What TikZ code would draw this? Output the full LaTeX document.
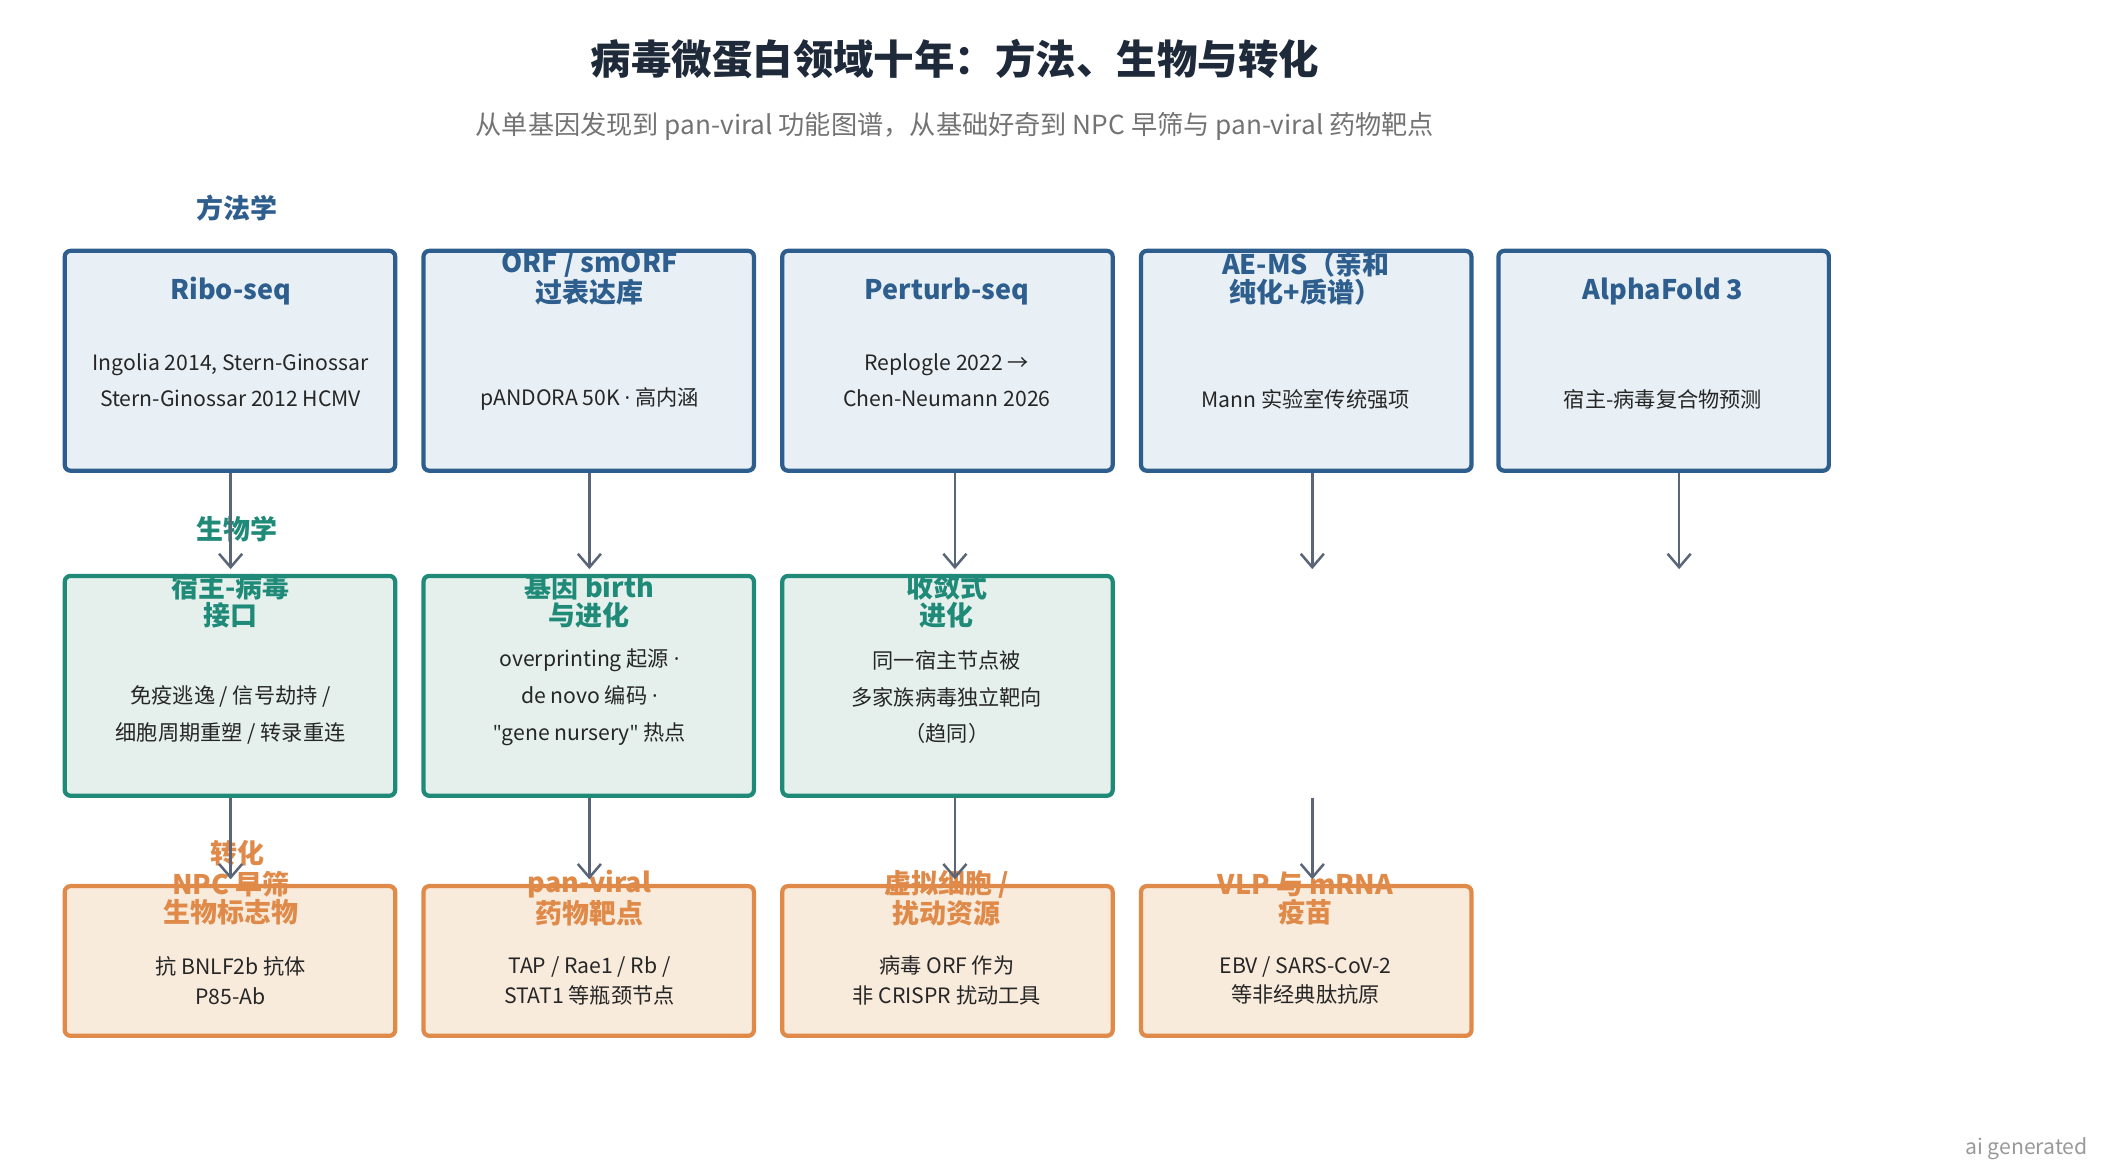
\documentclass[tikz,border=0pt]{standalone}
\usepackage{fontspec}
\setmainfont{Noto Sans CJK SC}
\newfontfamily\lat{Open Sans}
\newcommand{\md}{{\lat ·}}
\newcommand{\qt}{{\lat "}}
\usetikzlibrary{arrows.meta}
\definecolor{bB}{HTML}{2E5E8E}\definecolor{bF}{HTML}{E8F0F5}
\definecolor{gB}{HTML}{1F8A78}\definecolor{gF}{HTML}{E5F0EC}
\definecolor{oB}{HTML}{E08A4A}\definecolor{oF}{HTML}{F8EBDC}
\definecolor{ar}{HTML}{5A6678}\definecolor{tt}{HTML}{1E2A3A}
\begin{document}
\begin{tikzpicture}[x=0.7pt,y=-0.7pt,
 box/.style={draw,line width=2.2pt,rounded corners=3pt,minimum width=245*0.7pt,anchor=north west,inner sep=0,outer sep=0},
 B/.style={box,draw=bB,fill=bF,minimum height=163*0.7pt},
 G/.style={box,draw=gB,fill=gF,minimum height=163*0.7pt},
 O/.style={box,draw=oB,fill=oF,minimum height=111*0.7pt},
 ttl/.style={font=\bfseries\fontsize{14}{14.5}\selectfont,align=center,inner sep=0},
 body/.style={font=\fontsize{11}{19}\selectfont,align=center,text=black!85,inner sep=0},
 bodys/.style={font=\fontsize{11}{15.5}\selectfont,align=center,text=black!85,inner sep=0},
 sec/.style={font=\bfseries\fontsize{14}{14}\selectfont,inner sep=0},
 arr/.style={draw=ar,line width=1.3pt,-{Straight Barb[length=7pt,width=12pt]}}]
\useasboundingbox (0,0) rectangle (1560,871);
\node[font=\bfseries\fontsize{21}{21}\selectfont,text=tt] (title) at (708,44) {病毒微蛋白领域十年：方法、生物与转化};
\node[font=\fontsize{13.6}{14}\selectfont,text=black!55] (sub) at (708,94) {从单基因发现到 pan-viral 功能图谱，从基础好奇到 NPC 早筛与 pan-viral 药物靶点};
\node[sec,text=bB] (s1) at (176,154) {方法学};
\node[sec,text=gB] (s2) at (176,392) {生物学};
\node[sec,text=oB] (s3) at (176,633) {转化};
% row1
\node[B] (a1) at (48,186) {}; \node[B] (a2) at (314,186) {}; \node[B] (a3) at (580,186) {};
\node[B] (a4) at (846,186) {}; \node[B] (a5) at (1111,186) {};
\node[ttl,text=bB] at (171,216) {Ribo-seq};
\node[body] at (171,282) {Ingolia 2014, Stern-Ginossar\\Stern-Ginossar 2012 HCMV};
\node[ttl,text=bB] at (437,206) {ORF / smORF\\过表达库};
\node[body] at (437,296) {pANDORA 50K \md{} 高内涵};
\node[ttl,text=bB] at (702,216) {Perturb-seq};
\node[body] at (702,282) {Replogle 2022 →\\Chen-Neumann 2026};
\node[ttl,text=bB] at (968,206) {AE-MS（亲和\\纯化+质谱）};
\node[body] at (968,296) {Mann 实验室传统强项};
\node[ttl,text=bB] at (1233,216) {AlphaFold 3};
\node[body] at (1233,296) {宿主-病毒复合物预测};
% row2
\node[G] (b1) at (48,427) {}; \node[G] (b2) at (314,427) {}; \node[G] (b3) at (580,427) {};
\node[ttl,text=gB] at (171,446) {宿主-病毒\\接口};
\node[body] at (171,530) {免疫逃逸 / 信号劫持 /\\细胞周期重塑 / 转录重连};
\node[ttl,text=gB] at (437,446) {基因 birth\\与进化};
\node[body] at (437,517) {overprinting 起源 \md\\de novo 编码 \md\\\qt gene nursery\qt{} 热点};
\node[ttl,text=gB] at (702,446) {收敛式\\进化};
\node[body] at (702,517) {同一宿主节点被\\多家族病毒独立靶向\\（趋同）};
% row3
\node[O] (c1) at (48,657) {}; \node[O] (c2) at (314,657) {}; \node[O] (c3) at (580,657) {}; \node[O] (c4) at (846,657) {};
\node[ttl,text=oB] at (171,666) {NPC 早筛\\生物标志物};
\node[bodys] at (171,727) {抗 BNLF2b 抗体\\P85-Ab};
\node[ttl,text=oB] at (437,666) {pan-viral\\药物靶点};
\node[bodys] at (437,727) {TAP / Rae1 / Rb /\\STAT1 等瓶颈节点};
\node[ttl,text=oB] at (702,666) {虚拟细胞 /\\扰动资源};
\node[bodys] at (702,727) {病毒 ORF 作为\\非 CRISPR 扰动工具};
\node[ttl,text=oB] at (968,666) {VLP 与 mRNA\\疫苗};
\node[bodys] at (968,727) {EBV / SARS-CoV-2\\等非经典肽抗原};
% arrows
\foreach \x/\n in {171/1,437/2,708/3,973/4,1245/5}{
 \coordinate (p\n) at (\x,351); \coordinate (q\n) at (\x,422);
 \draw[arr] (p\n) -- (q\n);}
\foreach \x/\n in {171/1,437/2,708/3,973/4}{
 \coordinate (r\n) at (\x,592); \coordinate (t\n) at (\x,652);
 \draw[arr] (r\n) -- (t\n);}
\node[font=\fontsize{11}{11}\selectfont,text=black!40,anchor=east] (ai) at (1553,852) {ai generated};
\end{tikzpicture}
\end{document}
